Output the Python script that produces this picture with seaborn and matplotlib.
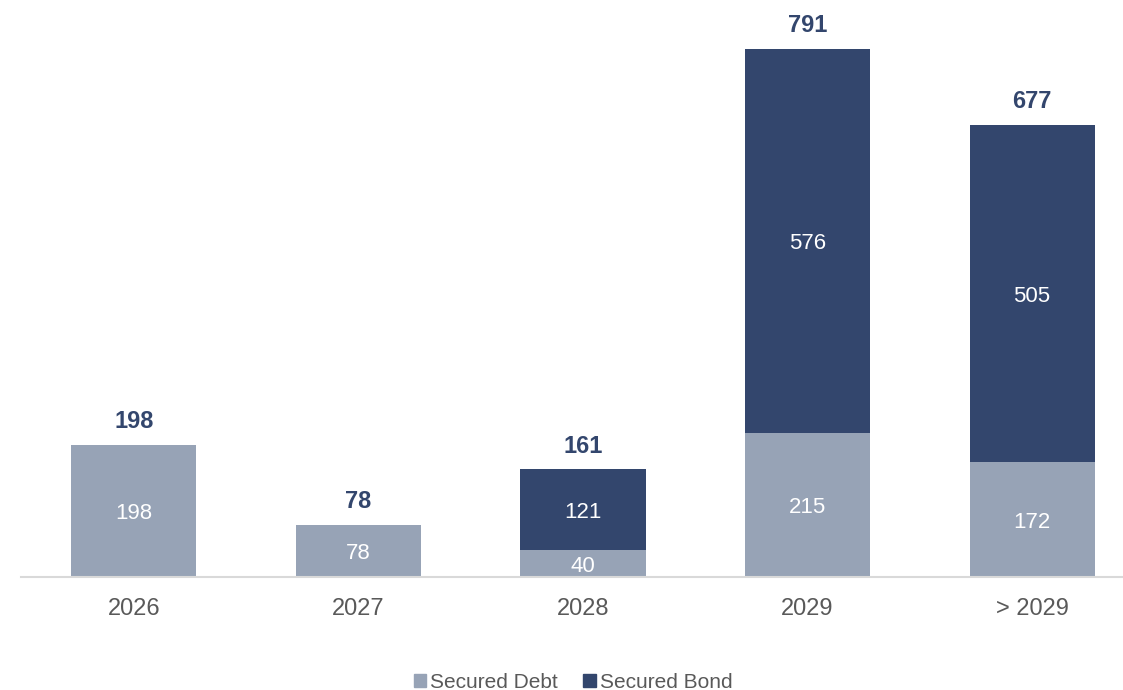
import pandas as pd
import seaborn as sb
import matplotlib.pyplot as plt
from matplotlib.patches import Patch

categories = ['2026', '2027', '2028', '2029', '> 2029']
secured_debt = [198, 78, 40, 215, 172]
secured_bond = [0, 0, 121, 576, 505]

LIGHT = '#97A3B6'
DARK = '#33466D'
GREY = '#595959'


def main():
    sb.set_style('white')
    plt.rcParams['font.family'] = ['Liberation Sans', 'DejaVu Sans']

    data = pd.DataFrame({'year': categories,
                         'debt': secured_debt,
                         'bond': secured_bond})
    data['total'] = data['debt'] + data['bond']

    fig = plt.figure(figsize=(11.23, 6.9), dpi=100)
    ax = fig.add_axes([21 / 1123, 113 / 690, 1 - 21 / 1123, 1 - 123 / 690])

    # stacked look: full total in dark, debt drawn on top in light
    sb.barplot(data=data, x='year', y='total', color=DARK, saturation=1,
               width=0.557, linewidth=0, ax=ax)
    sb.barplot(data=data, x='year', y='debt', color=LIGHT, saturation=1,
               width=0.557, linewidth=0, ax=ax)

    for i, row in data.iterrows():
        ax.annotate(str(row['debt']), (i, row['debt'] / 2), xytext=(0, -2),
                    textcoords='offset points', ha='center', va='center',
                    color='white', fontsize=16)
        if row['bond'] > 0:
            ax.annotate(str(row['bond']), (i, row['debt'] + row['bond'] / 2),
                        xytext=(0, -2), textcoords='offset points',
                        ha='center', va='center', color='white', fontsize=16)
        ax.annotate(str(row['total']), (i, row['total']), xytext=(0, 16.5),
                    textcoords='offset points', ha='center', va='center',
                    color=DARK, fontsize=17, fontweight='bold')

    ax.set_xlim(-0.503, 4.405)
    ax.set_ylim(0, 849)
    ax.set_xlabel('')
    ax.set_ylabel('')
    ax.set_yticks([])
    for side in ['left', 'right', 'top']:
        ax.spines[side].set_visible(False)
    ax.spines['bottom'].set_color('#D9D9D9')
    ax.spines['bottom'].set_linewidth(1.5)
    ax.tick_params(axis='x', length=0, labelsize=17, labelcolor=GREY, pad=15)

    handles = [Patch(color=LIGHT, label='Secured Debt'),
               Patch(color=DARK, label='Secured Bond')]
    fig.legend(handles=handles, loc='center', bbox_to_anchor=(573 / 1123, 1 - 682 / 690),
               ncol=2, frameon=False, fontsize=15, labelcolor=GREY,
               handlelength=0.6, handleheight=0.6, handletextpad=0.2,
               columnspacing=1.2)

    plt.savefig('out.png', format='png')


if __name__ == '__main__':
    main()
